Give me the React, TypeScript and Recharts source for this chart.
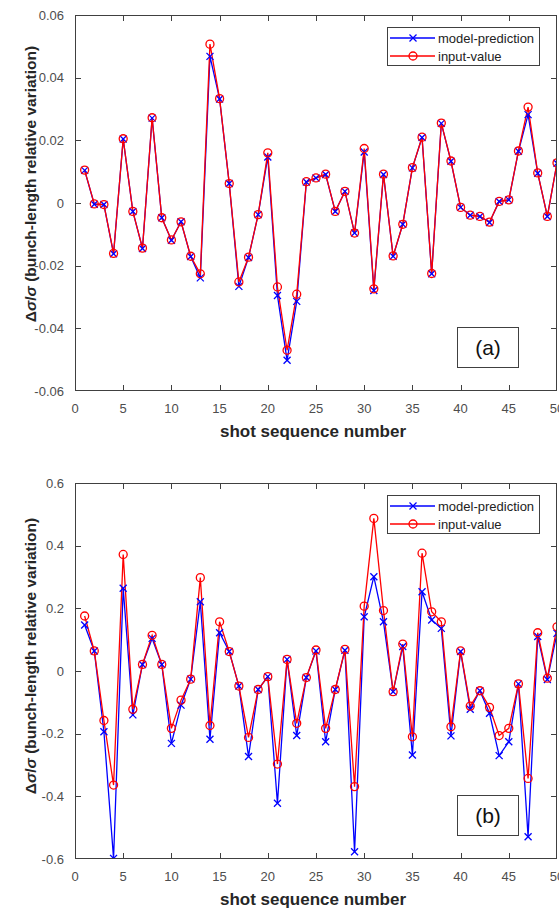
import React from "react";
import { LineChart, Line, XAxis, YAxis, Legend } from "recharts";

const FONT = "'Liberation Sans', Arial, sans-serif";
const BLUE = "#0000ff";
const RED = "#ff0000";
const AXIS = "#404040";
const TICK_TEXT = "#4d4d4d";

const shots = [
  1, 2, 3, 4, 5, 6, 7, 8, 9, 10, 11, 12, 13, 14, 15, 16, 17, 18, 19, 20, 21, 22, 23, 24, 25,
  26, 27, 28, 29, 30, 31, 32, 33, 34, 35, 36, 37, 38, 39, 40, 41, 42, 43, 44, 45, 46, 47, 48, 49, 50,
];
const xTicks = [0, 5, 10, 15, 20, 25, 30, 35, 40, 45, 50];

// panel (a)
const modelA = [
  0.0104, -0.0004, -0.0005, -0.0162, 0.0204, -0.0027, -0.0145, 0.0271, -0.0047, -0.0119,
  -0.006, -0.0171, -0.0239, 0.0468, 0.0332, 0.0062, -0.0266, -0.0174, -0.0037, 0.0147,
  -0.0295, -0.0502, -0.0314, 0.0067, 0.008, 0.0091, -0.0027, 0.0037, -0.0096, 0.0163,
  -0.0279, 0.0091, -0.017, -0.0068, 0.0112, 0.0209, -0.0226, 0.0254, 0.0133, -0.0014,
  -0.0039, -0.0043, -0.0062, 0.0005, 0.001, 0.0165, 0.0282, 0.0095, -0.0043, 0.0127,
];
const inputA = [
  0.0105, -0.0003, -0.0005, -0.0161, 0.0205, -0.0027, -0.0144, 0.0272, -0.0047, -0.0118,
  -0.006, -0.017, -0.0226, 0.0507, 0.0333, 0.0062, -0.0252, -0.0173, -0.0037, 0.016,
  -0.0268, -0.047, -0.0291, 0.0068, 0.008, 0.0092, -0.0027, 0.0037, -0.0096, 0.0174,
  -0.0274, 0.0092, -0.0169, -0.0068, 0.0113, 0.021, -0.0225, 0.0255, 0.0134, -0.0014,
  -0.0039, -0.0043, -0.0061, 0.0005, 0.001, 0.0166, 0.0306, 0.0096, -0.0043, 0.0128,
];
const yTicksA = [-0.06, -0.04, -0.02, 0, 0.02, 0.04, 0.06];

// panel (b)
const modelB = [
  0.147, 0.064, -0.194, -0.598, 0.264, -0.14, 0.021, 0.104, 0.021, -0.231,
  -0.109, -0.026, 0.221, -0.218, 0.122, 0.062, -0.048, -0.273, -0.059, -0.018,
  -0.422, 0.037, -0.206, -0.021, 0.064, -0.226, -0.059, 0.066, -0.577, 0.173,
  0.301, 0.157, -0.066, 0.078, -0.268, 0.253, 0.163, 0.136, -0.207, 0.062,
  -0.122, -0.063, -0.135, -0.27, -0.226, -0.041, -0.529, 0.11, -0.027, 0.12,
];
const inputB = [
  0.1755, 0.064, -0.158, -0.364, 0.372, -0.122, 0.021, 0.114, 0.021, -0.183,
  -0.093, -0.026, 0.298, -0.174, 0.157, 0.062, -0.048, -0.212, -0.059, -0.018,
  -0.297, 0.037, -0.167, -0.021, 0.067, -0.183, -0.059, 0.069, -0.369, 0.207,
  0.487, 0.193, -0.066, 0.086, -0.21, 0.376, 0.189, 0.157, -0.178, 0.064,
  -0.112, -0.063, -0.116, -0.206, -0.183, -0.041, -0.343, 0.122, -0.023, 0.141,
];
const yTicksB = [-0.6, -0.4, -0.2, 0, 0.2, 0.4, 0.6];

// plot box (matches chart margins + axis sizes below)
const PLOT_L = 75;
const PLOT_T = 15;
const PLOT_W = 482;
const PLOT_H = 376;
const TICK_PX = 5;

function XMark(props: any) {
  const { cx, cy, index } = props;
  if (cx == null || cy == null) return <g key={index} />;
  const s = 3.5;
  return (
    <g key={index} stroke={BLUE} strokeWidth={1.3}>
      <line x1={cx - s} y1={cy - s} x2={cx + s} y2={cy + s} />
      <line x1={cx - s} y1={cy + s} x2={cx + s} y2={cy - s} />
    </g>
  );
}

function LegendBox() {
  const row = (label: string, color: string, marker: "x" | "o") => (
    <div style={{ display: "flex", alignItems: "center", height: 18 }}>
      <svg width={48} height={12} style={{ display: "block" }}>
        <line x1={2} y1={6} x2={47} y2={6} stroke={color} strokeWidth={1.3} />
        {marker === "x" ? (
          <g stroke={color} strokeWidth={1.3}>
            <line x1={21.5} y1={2.5} x2={28.5} y2={9.5} />
            <line x1={21.5} y1={9.5} x2={28.5} y2={2.5} />
          </g>
        ) : (
          <circle cx={25} cy={6} r={4} fill="none" stroke={color} strokeWidth={1.3} />
        )}
      </svg>
      <span style={{ marginLeft: 2, fontSize: 13, color: "#222" }}>{label}</span>
    </div>
  );
  return (
    <div
      style={{
        border: `1px solid ${AXIS}`,
        background: "#fff",
        width: 151,
        height: 36,
        boxSizing: "content-box",
        paddingTop: 1,
        fontFamily: FONT,
      }}
    >
      {row("model-prediction", BLUE, "x")}
      {row("input-value", RED, "o")}
    </div>
  );
}

// MATLAB-style box with inward ticks, laid over the plot area
function Frame({ yTicks }: { yTicks: number[] }) {
  const xMin = xTicks[0];
  const xMax = xTicks[xTicks.length - 1];
  const yMin = yTicks[0];
  const yMax = yTicks[yTicks.length - 1];
  const px = (v: number) => ((v - xMin) / (xMax - xMin)) * PLOT_W;
  const py = (v: number) => ((yMax - v) / (yMax - yMin)) * PLOT_H;
  const tick = (style: React.CSSProperties, key: string) => (
    <div key={key} style={{ position: "absolute", background: AXIS, ...style }} />
  );
  return (
    <div
      style={{
        position: "absolute",
        left: PLOT_L,
        top: PLOT_T,
        width: PLOT_W,
        height: PLOT_H,
        boxSizing: "border-box",
        border: `1px solid ${AXIS}`,
        pointerEvents: "none",
      }}
    >
      {xTicks.slice(1, -1).map((t) => [
        tick({ left: px(t) - 1, bottom: 0, width: 1, height: TICK_PX }, `b${t}`),
        tick({ left: px(t) - 1, top: 0, width: 1, height: TICK_PX }, `t${t}`),
      ])}
      {yTicks.slice(1, -1).map((t) => [
        tick({ top: py(t) - 1, left: 0, height: 1, width: TICK_PX }, `l${t}`),
        tick({ top: py(t) - 1, right: 0, height: 1, width: TICK_PX }, `r${t}`),
      ])}
    </div>
  );
}

type PanelProps = {
  model: number[];
  input: number[];
  yTicks: number[];
  tag: string;
  height: number;
  bottom: number;
  yTitleCenter: number;
};

function Panel({ model, input, yTicks, tag, height, bottom, yTitleCenter }: PanelProps) {
  const data = shots.map((s, i) => ({ shot: s, model: model[i], input: input[i] }));
  const yMin = yTicks[0];
  const yMax = yTicks[yTicks.length - 1];
  const plotBottom = height - bottom - 30;
  return (
    <div style={{ position: "relative", width: 559, height, fontFamily: FONT }}>
      <LineChart width={559} height={height} data={data} margin={{ top: PLOT_T, right: 2, left: 0, bottom }}>
        <XAxis
          dataKey="shot"
          type="number"
          domain={[xTicks[0], xTicks[xTicks.length - 1]]}
          ticks={xTicks}
          interval={0}
          allowDataOverflow
          height={30}
          axisLine={false}
          tickLine={false}
          tickSize={0}
          tickMargin={13}
          tick={{ fontSize: 13, fill: TICK_TEXT }}
        />
        <YAxis
          type="number"
          domain={[yMin, yMax]}
          ticks={yTicks}
          interval={0}
          allowDataOverflow
          width={PLOT_L}
          axisLine={false}
          tickLine={false}
          tickSize={0}
          tickMargin={11}
          tick={{ fontSize: 13, fill: TICK_TEXT }}
          tickFormatter={(v: number) => String(Math.round(v * 100) / 100)}
        />
        <Legend
          layout="vertical"
          align="center"
          verticalAlign="middle"
          content={() => <LegendBox />}
          wrapperStyle={{ left: 387, top: 27, width: 153, height: 38 }}
        />
        <Line
          dataKey="model"
          name="model-prediction"
          stroke={BLUE}
          strokeWidth={1.3}
          dot={<XMark />}
          activeDot={false}
          isAnimationActive={false}
        />
        <Line
          dataKey="input"
          name="input-value"
          stroke={RED}
          strokeWidth={1.3}
          dot={{ r: 4, fill: "none", stroke: RED, strokeWidth: 1.3 }}
          activeDot={false}
          isAnimationActive={false}
        />
      </LineChart>
      <Frame yTicks={yTicks} />
      <div
        style={{
          position: "absolute",
          left: 457,
          top: 327,
          width: 60,
          height: 39,
          border: `1px solid ${AXIS}`,
          background: "#fff",
          fontSize: 21,
          color: "#111",
          display: "flex",
          alignItems: "center",
          justifyContent: "center",
        }}
      >
        {tag}
      </div>
      <div
        style={{
          position: "absolute",
          left: 0,
          width: 626,
          top: plotBottom + 31,
          height: 20,
          lineHeight: "20px",
          textAlign: "center",
          fontWeight: "bold",
          fontSize: 17,
          color: "#262626",
          whiteSpace: "nowrap",
        }}
      >
        shot sequence number
      </div>
      <div
        style={{
          position: "absolute",
          left: 31 - 200,
          width: 400,
          top: yTitleCenter - 10,
          height: 20,
          lineHeight: "20px",
          textAlign: "center",
          transform: "rotate(-90deg)",
          fontWeight: "bold",
          fontSize: 15.5,
          color: "#262626",
          whiteSpace: "nowrap",
        }}
      >
        Δ<i>σ</i>/<i>σ</i> (bunch-length relative variation)
      </div>
    </div>
  );
}

export default function App() {
  return (
    <div style={{ width: 559, height: 908, background: "#fff", overflow: "hidden" }}>
      <style>{`body { margin: 0; background: #fff; }`}</style>
      <Panel model={modelA} input={inputA} yTicks={yTicksA} tag="(a)" height={460} bottom={39} yTitleCenter={184} />
      <div style={{ height: 8 }} />
      <Panel model={modelB} input={inputB} yTicks={yTicksB} tag="(b)" height={440} bottom={19} yTitleCenter={188} />
    </div>
  );
}
